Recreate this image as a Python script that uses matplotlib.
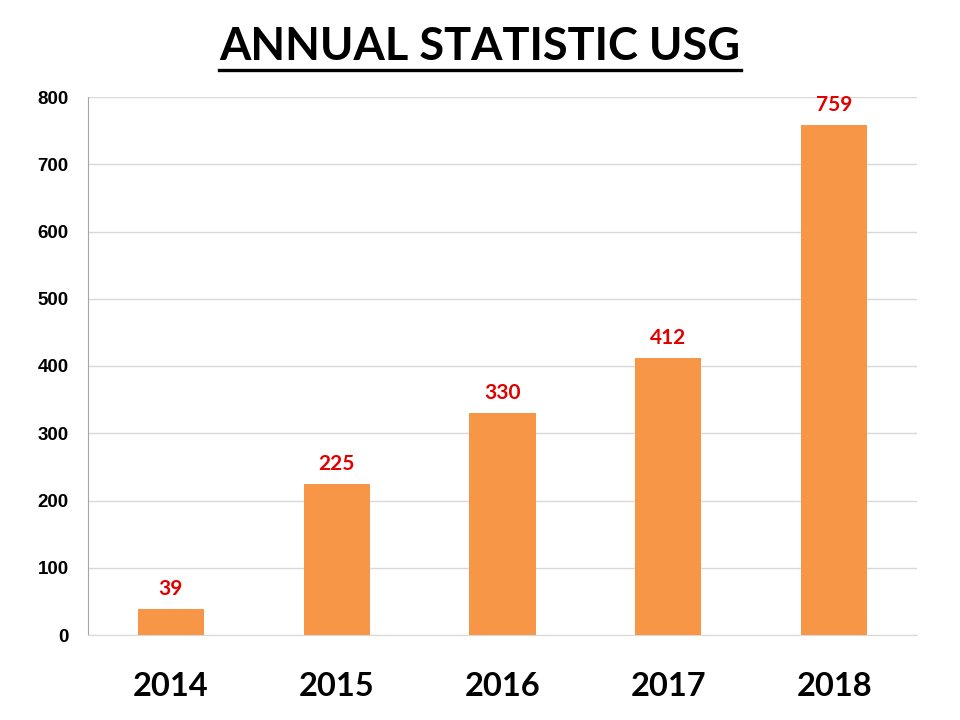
import matplotlib
matplotlib.use("Agg")
import matplotlib.pyplot as plt
from matplotlib.lines import Line2D

years = ["2014", "2015", "2016", "2017", "2018"]
counts = [39, 225, 330, 412, 759]
yticks = [0, 100, 200, 300, 400, 500, 600, 700, 800]

fig = plt.figure(figsize=(9.6, 7.2), dpi=100)
ax = fig.add_axes([88 / 960, 1 - 635 / 720, (917 - 88) / 960, (635 - 97) / 720])

x = range(len(years))
ax.bar(x, counts, width=0.40, color="#F79646", zorder=3)
ax.set_xlim(-0.5, len(years) - 0.5)
ax.set_ylim(0, 800)
ax.set_yticks(yticks)
ax.set_yticklabels([str(v) for v in yticks], fontfamily="Liberation Sans",
                   fontweight="bold", fontsize=13.5)
ax.set_xticks(list(x))
ax.set_xticklabels(years, fontfamily="Lato", fontweight="bold", fontsize=23.5)
ax.tick_params(axis="y", length=0, pad=14)
ax.tick_params(axis="x", length=0, pad=27)
ax.grid(axis="y", color="#D9D9D9", linewidth=1, zorder=0)
for s in ["top", "right"]:
    ax.spines[s].set_visible(False)
ax.spines["left"].set_color("#A6A6A6")
ax.spines["bottom"].set_color("#D9D9D9")

for xi, v in zip(x, counts):
    ax.annotate(str(v), (xi, v), xytext=(0, 7), textcoords="offset points",
                ha="center", va="bottom", color="#E00000", fontfamily="Lato",
                fontweight="bold", fontsize=15)

t = fig.text(0.5, 1 - 47 / 720, "ANNUAL STATISTIC USG", ha="center", va="center",
             fontfamily="Lato", fontweight="bold", fontsize=32.5)
fig.canvas.draw()
bb = t.get_window_extent()
uy = 1 - 70 / 720
fig.add_artist(Line2D([bb.x0 / 960, bb.x1 / 960], [uy, uy], color="black",
                      linewidth=2.4, transform=fig.transFigure))

fig.savefig("out.png", dpi=100)
